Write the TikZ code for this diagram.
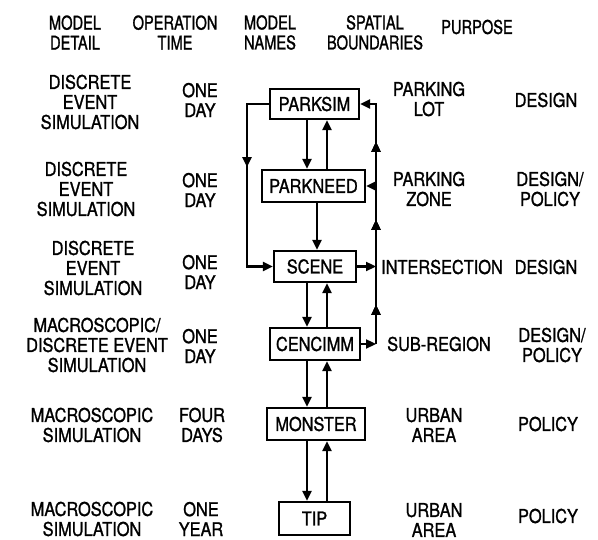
\documentclass[tikz,border=0pt]{standalone}
\usepackage{fontspec}
\newfontfamily\lbfont[FakeStretch=0.86,FakeBold=1.2]{TeX Gyre Heros}
\newfontfamily\hdfont[FakeStretch=0.77,FakeBold=1.2]{TeX Gyre Heros}
\usetikzlibrary{arrows.meta,decorations.markings}
\begin{document}
\begin{tikzpicture}[x=1pt,y=-1pt,line width=2.3pt,
  txt/.style={font=\lbfont\fontsize{19}{20}\selectfont, align=center, inner sep=0pt},
  hdr/.style={font=\hdfont\fontsize{19}{20}\selectfont, align=center, inner sep=0pt},
  mbox/.style={draw, font=\lbfont\fontsize{19}{20}\selectfont, minimum height=31pt, inner sep=0pt},
  arr/.style={-{Triangle[length=10pt,width=9pt]}},
  tipmark/.style={postaction={decorate}, decoration={markings,
     mark=at position #1 with {\arrow{Triangle[length=10pt,width=9pt]}}}}
]
\useasboundingbox (0,0) rectangle (598,540);

% headers
\node[hdr] (h1) at (75,32.5) {MODEL\\DETAIL};
\node[hdr] (h2) at (175,32.5) {OPERATION\\TIME};
\node[hdr] (h3) at (270,32.5) {MODEL\\NAMES};
\node[hdr] (h4) at (375,32.5) {SPATIAL\\BOUNDARIES};
\node[hdr] (h5) at (477,27) {PURPOSE};

% model detail
\node[txt] (d1) at (90,102) {DISCRETE\\EVENT\\SIMULATION};
\node[txt] (d2) at (86,189) {DISCRETE\\EVENT\\SIMULATION};
\node[txt] (d3) at (93,268) {DISCRETE\\EVENT\\SIMULATION};
\node[txt] (d4) at (97,345) {MACROSCOPIC/\\DISCRETE EVENT\\SIMULATION};
\node[txt] (d5) at (92,425) {MACROSCOPIC\\SIMULATION};
\node[txt] (d6) at (92,519) {MACROSCOPIC\\SIMULATION};

% operation time
\node[txt] (t1) at (200,100) {ONE\\DAY};
\node[txt] (t2) at (200,190) {ONE\\DAY};
\node[txt] (t3) at (200,272) {ONE\\DAY};
\node[txt] (t4) at (200,346) {ONE\\DAY};
\node[txt] (t5) at (202,425) {FOUR\\DAYS};
\node[txt] (t6) at (201,519) {ONE\\YEAR};

% spatial boundaries
\node[txt] (s1) at (429,99) {PARKING\\LOT};
\node[txt] (s2) at (429,189) {PARKING\\ZONE};
\node[txt] (s3) at (442,267) {INTERSECTION};
\node[txt] (s4) at (439,344) {SUB-REGION};
\node[txt] (s5) at (434,425) {URBAN\\AREA};
\node[txt] (s6) at (434,520) {URBAN\\AREA};

% purpose
\node[txt] (p1) at (546,100) {DESIGN};
\node[txt] (p2) at (550,189) {DESIGN/\\POLICY};
\node[txt] (p3) at (546,267) {DESIGN};
\node[txt] (p4) at (552,345) {DESIGN/\\POLICY};
\node[txt] (p5) at (548,424) {POLICY};
\node[txt] (p6) at (548,516) {POLICY};

% model boxes
\node[mbox, minimum width=89pt, minimum height=30pt] (parksim) at (314.5,104) {PARKSIM};
\node[mbox, minimum width=103pt, minimum height=32pt] (parkneed) at (313.5,186) {PARKNEED};
\node[mbox, minimum width=82pt] (scene) at (315,266.5) {SCENE};
\node[mbox, minimum width=90pt, minimum height=32pt] (cencimm) at (315,344) {CENCIMM};
\node[mbox, minimum width=98pt, minimum height=32pt] (monster) at (316,424) {MONSTER};
\node[mbox, minimum width=71pt, minimum height=33pt] (tip) at (314.5,518.5) {TIP};

% helper columns
\coordinate (xd) at (307,0);
\coordinate (xu) at (327,0);
\coordinate (xm) at (317,0);
\coordinate (lx) at (247,0);
\coordinate (rx) at (376,0);

% vertical arrows between boxes
\draw[arr] (parksim.south -| xd) -- (parkneed.north -| xd);
\draw[arr] (parkneed.north -| xu) -- (parksim.south -| xu);
\draw[arr] (parkneed.south -| xm) -- (scene.north -| xm);
\draw[arr] (scene.south -| xd) -- (cencimm.north -| xd);
\draw[arr] (cencimm.north -| xu) -- (scene.south -| xu);
\draw[arr] (cencimm.south -| xd) -- (monster.north -| xd);
\draw[arr] (monster.north -| xu) -- (cencimm.south -| xu);
\draw[arr] (monster.south -| xd) -- (tip.north -| xd);
\draw[arr] (tip.north -| xu) -- (monster.south -| xu);

% left loop
\draw[arr, tipmark=85pt] (parksim.west) -| (scene.west -| lx) -- (scene.west);

% right feedback line
\draw[arr] (scene.east) -- (scene.east -| rx);
\draw[arr] (cencimm.east) -- (cencimm.east -| rx);
\draw[arr, tipmark=39pt, tipmark=124pt, tipmark=202pt] (cencimm.east -| rx) -- (parksim.east -| rx) -- (parksim.east);
\draw[arr] (parkneed.east -| rx) -- (parkneed.east);
\end{tikzpicture}
\end{document}
